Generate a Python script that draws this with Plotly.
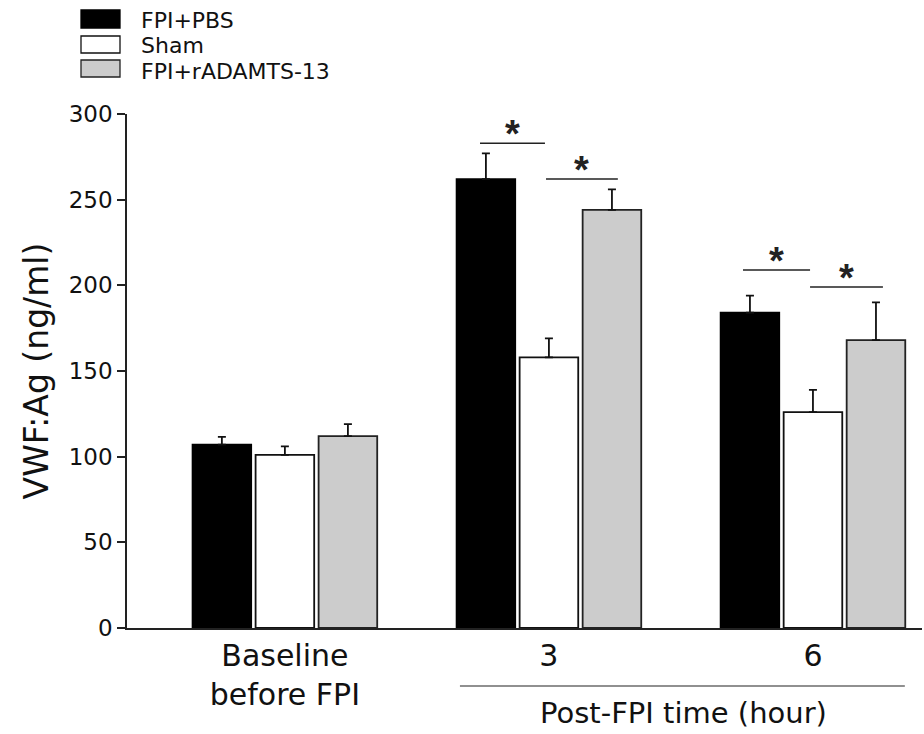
import plotly.graph_objects as go

groups = ["Baseline<br>before FPI", "3", "6"]
series_names = ["FPI+PBS", "Sham", "FPI+rADAMTS-13"]
fpi_pbs = [107, 262, 184]
fpi_pbs_err = [4.5, 15, 10]
sham = [101, 158, 126]
sham_err = [5, 11, 13]
fpi_adamts = [112, 244, 168]
fpi_adamts_err = [7, 12, 22]

fills = ["#000000", "#ffffff", "#cccccc"]
lines = ["#000000", "#111111", "#222222"]

FONT = "DejaVu Sans"
W, H = 924, 734
PL, PT, PR, PB = 127, 114, 922, 628  # plot area in page pixels
L, T, R, B = PL, PT, W - PR, H - PB
PW, PH = PR - PL, PB - PT


def px(xp):
    return (xp - PL) / PW


def py(yp):
    return (PB - yp) / PH


fig = go.Figure()
xs = [0, 1, 2]
for name, vals, errs, fc, lc in zip(series_names, [fpi_pbs, sham, fpi_adamts],
                                    [fpi_pbs_err, sham_err, fpi_adamts_err], fills, lines):
    fig.add_trace(go.Bar(
        x=xs, y=vals, name=name, showlegend=False,
        marker=dict(color=fc, line=dict(color=lc, width=1.8)),
        error_y=dict(type="data", array=errs, arrayminus=[0] * len(errs),
                     symmetric=False, color="#111111", thickness=1.8, width=4),
    ))

# significance brackets: (x0, x1, y)
sig = [(0.739, 0.985, 283), (0.989, 1.261, 262), (1.735, 1.989, 209), (1.989, 2.265, 199)]
shapes = []
annotations = []
for x0, x1, y in sig:
    shapes.append(dict(type="line", xref="x", yref="y", x0=x0, x1=x1, y0=y, y1=y,
                       line=dict(color="#222222", width=1.5)))
    annotations.append(dict(x=(x0 + x1) / 2, y=y, xref="x", yref="y", text="<b>*</b>",
                            showarrow=False, yanchor="bottom", yshift=-14,
                            font=dict(size=38, color="#222222", family="Liberation Sans")))

# Post-FPI time line and label
shapes.append(dict(type="line", xref="x", yref="paper", x0=0.663, x1=2.348,
                   y0=py(686), y1=py(686), line=dict(color="#222222", width=1.2)))
annotations.append(dict(x=1.508, y=py(713), xref="x", yref="paper", text="Post-FPI time (hour)",
                        showarrow=False, yanchor="middle",
                        font=dict(size=29, color="#111111", family=FONT)))

# Legend
leg_box = [(10, 28), (36, 53), (60, 77)]
leg_txt = [21, 45, 71]
for (y0, y1), ty, name, fc, lc in zip(leg_box, leg_txt, series_names, fills, lines):
    shapes.append(dict(type="rect", xref="paper", yref="paper", x0=px(81), x1=px(120),
                       y0=py(y1), y1=py(y0), fillcolor=fc, line=dict(color=lc, width=1.3)))
    annotations.append(dict(x=px(139), y=py(ty), xref="paper", yref="paper",
                            text=name, showarrow=False, xanchor="left", yanchor="middle",
                            font=dict(size=22, color="#111111", family=FONT)))

fig.update_layout(
    width=W, height=H,
    margin=dict(l=L, r=R, t=T, b=B, pad=0),
    paper_bgcolor="white", plot_bgcolor="white",
    barmode="group", bargap=0.284, bargroupgap=0.07,
    shapes=shapes, annotations=annotations,
    font=dict(family=FONT, color="#111111"),
    xaxis=dict(range=[-0.598, 2.413], tickvals=xs, ticktext=groups,
               showline=True, linecolor="#222222", linewidth=1.5, ticks="",
               showgrid=False, zeroline=False, tickfont=dict(size=30)),
    yaxis=dict(range=[0, 300], tickvals=[0, 50, 100, 150, 200, 250, 300],
               showline=True, linecolor="#222222", linewidth=1.5, ticks="outside",
               ticklen=8, tickwidth=1.5, tickcolor="#222222", showgrid=False, zeroline=False,
               tickfont=dict(size=23),
               title=dict(text="VWF:Ag (ng/ml)", font=dict(size=33), standoff=10)),
)

fig.write_html("out.html", config={"displayModeBar": False},
               post_script="document.body.style.margin='0px';")
